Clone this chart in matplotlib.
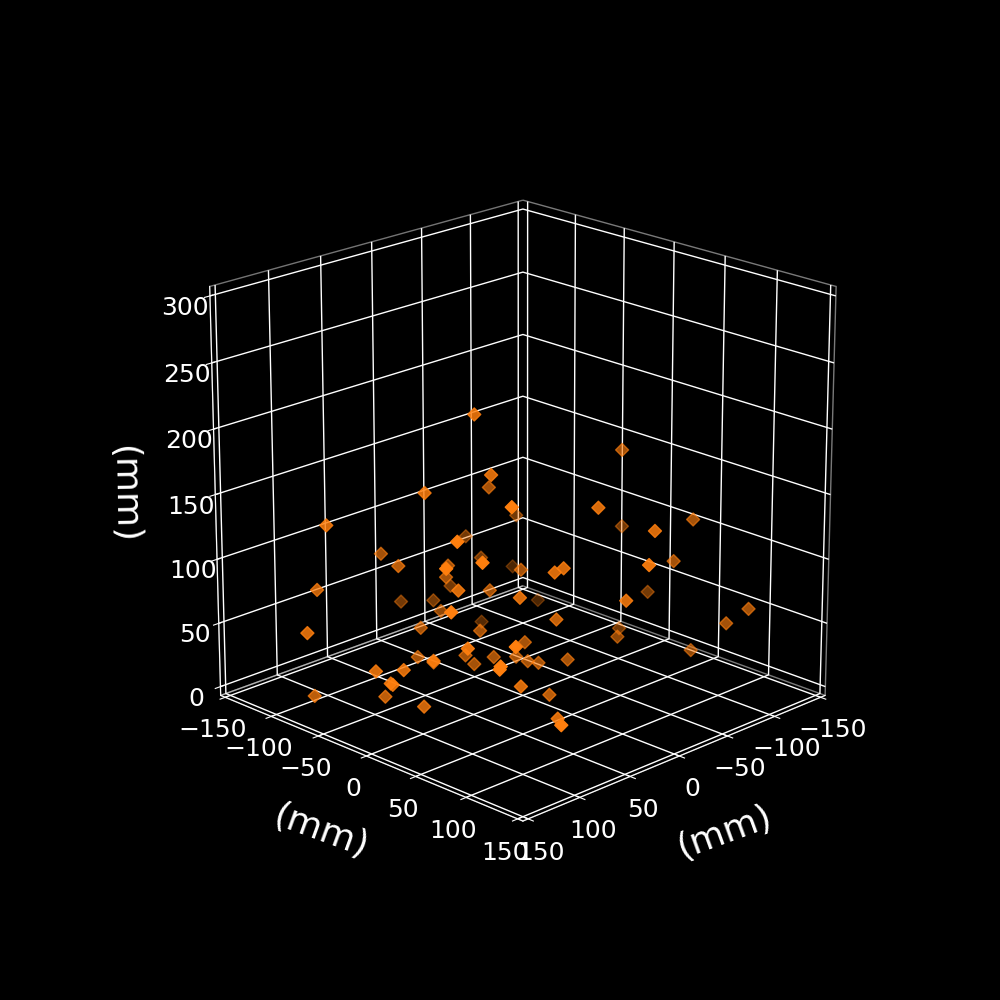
import matplotlib
matplotlib.use('Agg')
import matplotlib.pyplot as plt

plt.style.use('dark_background')
plt.rcParams['font.size'] = 18
plt.rcParams['grid.linewidth'] = 1.0

x = [12,14,-24,51,41,-76,106,74,-46,43,53,-50,65,84,11,-101,-26,14,-29,51,-6,21,106,0,-17,
     6,89,134,36,-66,6,72,18,43,75,52,4,15,63,-15,-8,-13,74,75,92,106,101,100,85,120,
     78,36,-99,-34,-123,-130,-59,-1,-6,-33,-106,-131,-108,-32,-136,-10,-122,-110,-81,-18,-34,-116,-1,26,54]
y = [-37,-18,-59,-48,30,-83,-92,9,-106,-103,-74,-94,25,8,-66,-112,-28,-65,-105,-14,-40,18,-103,-128,-111,
     -79,18,-83,-69,-110,-38,17,-41,-65,-15,-39,-26,-35,56,-13,-15,-8,52,52,-28,-42,-32,-31,-55,-92,
     -22,34,3,42,52,-26,74,31,35,93,49,0,-92,72,96,24,87,-9,17,-2,12,58,26,61,92]
z = [205,164,134,152,159,92,130,136,77,88,89,62,122,118,80,36,77,72,42,86,63,81,77,31,32,
     39,89,57,37,1,35,56,18,17,38,23,17,12,66,27,17,14,53,51,32,31,23,22,1,1,
     1,21,160,142,112,84,126,98,101,112,83,38,12,79,50,57,40,12,21,13,15,12,1,1,14]
x_ticks = [-150, -100, -50, 0, 50, 100, 150]
y_ticks = [-150, -100, -50, 0, 50, 100, 150]
z_ticks = [0, 50, 100, 150, 200, 250, 300]

fig = plt.figure(figsize=(10, 10), dpi=100)
ax = fig.add_subplot(111, projection='3d')
ax.scatter(x, y, z, marker='D', c='#ff7f0e', s=44)
ax.set_xlim(-155, 155)
ax.set_ylim(-155, 155)
ax.set_zlim(-7, 307)
ax.set_xticks(x_ticks)
ax.set_yticks(y_ticks)
ax.set_zticks(z_ticks)
ax.set_box_aspect((1, 1, 1), zoom=0.95)
ax.set_xlabel('(mm)', fontsize=26, labelpad=20, rotation=20)
ax.set_ylabel('(mm)', fontsize=26, labelpad=20, rotation=-20)
ax.zaxis.set_rotate_label(False)
ax.set_zlabel('(mm)', fontsize=26, labelpad=22, rotation=-89)
ax.view_init(elev=20, azim=45)
ax.xaxis.pane.fill = False
ax.yaxis.pane.fill = False
ax.zaxis.pane.fill = False
fig.savefig('out.png', facecolor='black')
